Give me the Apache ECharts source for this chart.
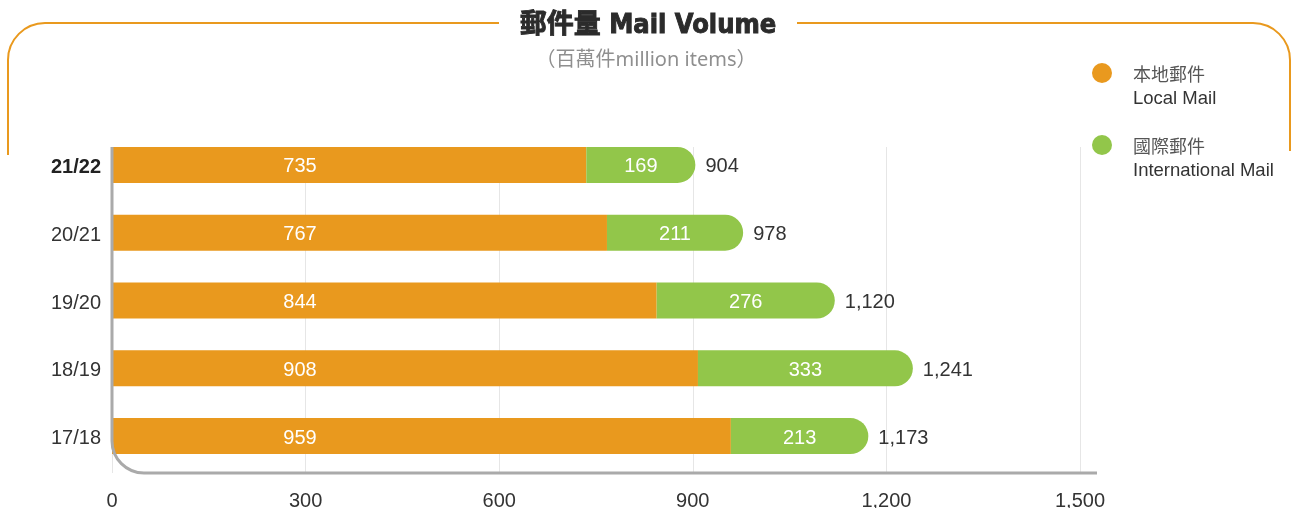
<!DOCTYPE html>
<html><head><meta charset="utf-8">
<script src="https://cdn.jsdelivr.net/npm/echarts@6/dist/echarts.min.js"></script>
<style>html,body{margin:0;padding:0;background:#fff}#c{width:1292px;height:508px}</style>
</head><body><div id="c"></div>
<script>
const categories = ['21/22', '20/21', '19/20', '18/19', '17/18'];
const localMail = [735, 767, 844, 908, 959];
const intlMail = [169, 211, 276, 333, 213];
const totals = [904, 978, 1120, 1241, 1173];
const xTicks = [0, 300, 600, 900, 1200, 1500];
const seriesNames = [['本地郵件', 'Local Mail'], ['國際郵件', 'International Mail']];
const colors = ['#E9991E', '#92C64A'];

const FONT = '"Liberation Sans", Arial, "Noto Sans CJK TC", sans-serif';
const chart = echarts.init(document.getElementById('c'), null, {renderer: 'canvas'});

const option = {
  animation: false,
  textStyle: {fontFamily: FONT},
  grid: [
    {left: 112, width: 968, top: 131, height: 339, outerBoundsMode: 'none', containLabel: false},
    {left: 112, width: 968, top: 147, height: 326, outerBoundsMode: 'none', containLabel: false}
  ],
  xAxis: [
    {gridIndex: 0, type: 'value', min: xTicks[0], max: xTicks[xTicks.length - 1], interval: 300, show: false},
    {gridIndex: 1, type: 'value', min: xTicks[0], max: xTicks[xTicks.length - 1], interval: 300,
      axisLine: {show: false}, axisTick: {show: false},
      splitLine: {show: true, lineStyle: {color: '#e6e6e6', width: 1}},
      axisLabel: {margin: 18, fontSize: 20, color: '#333', fontFamily: FONT,
        formatter: v => v.toLocaleString('en-US')}
    }
  ],
  yAxis: [
    {gridIndex: 0, type: 'category', data: categories, inverse: true,
      axisLine: {show: false}, axisTick: {show: false},
      axisLabel: {margin: 11, fontSize: 20, color: '#333', fontFamily: FONT,
        formatter: (v, i) => i === 0 ? '{b|' + v + '}' : '{n|' + v + '}',
        rich: {
          b: {fontWeight: 'bold', fontSize: 20, color: '#222', fontFamily: FONT, padding: [5, 0, 0, 0]},
          n: {fontSize: 20, color: '#333', fontFamily: FONT, padding: [5, 0, 0, 0]}
        }}
    },
    {gridIndex: 1, type: 'category', data: categories, show: false}
  ],
  series: [
    {name: seriesNames[0][0], type: 'bar', stack: 't', xAxisIndex: 0, yAxisIndex: 0,
      data: localMail, barWidth: 36, itemStyle: {color: colors[0]},
      label: {show: true, position: [188, '50%'], offset: [0, 2], align: 'center', verticalAlign: 'middle',
        color: '#fff', fontSize: 20, fontFamily: FONT}},
    {name: seriesNames[1][0], type: 'bar', stack: 't', xAxisIndex: 0, yAxisIndex: 0,
      data: intlMail, barWidth: 36, itemStyle: {color: colors[1], borderRadius: [0, 18, 18, 0]},
      label: {show: true, position: 'inside', offset: [0, 2], color: '#fff', fontSize: 20, fontFamily: FONT}},
    {name: 'total', type: 'bar', stack: 't', xAxisIndex: 0, yAxisIndex: 0,
      data: totals.map(() => 0), barWidth: 36, itemStyle: {color: 'transparent'},
      label: {show: true, position: 'right', distance: 10, offset: [0, 2], color: '#333', fontSize: 20, fontFamily: FONT,
        formatter: p => totals[p.dataIndex].toLocaleString('en-US')}}
  ]
};
chart.setOption(option);

// decorative frame + axis corner + legend
const x0 = chart.convertToPixel({xAxisIndex: 1}, 0);
const x1500 = chart.convertToPixel({xAxisIndex: 1}, 1500);
const yTop = 147, yBot = 473, r = 32;
const axisStyle = {stroke: '#AAAAAA', lineWidth: 3, fill: null};
const frameStyle = {stroke: '#E9991E', lineWidth: 2, fill: null};
const g = [];
g.push({type: 'line', shape: {x1: x0, y1: yTop, x2: x0, y2: yBot - r}, style: axisStyle, z: 10});
g.push({type: 'arc', shape: {cx: x0 + r, cy: yBot - r, r: r, startAngle: Math.PI / 2, endAngle: Math.PI, clockwise: true}, style: axisStyle, z: 10});
g.push({type: 'line', shape: {x1: x0 + r, y1: yBot, x2: x1500 + 17, y2: yBot}, style: axisStyle, z: 10});
// orange bracket
const R = 37;
g.push({type: 'line', shape: {x1: 8, y1: 155, x2: 8, y2: 23 + R}, style: frameStyle});
g.push({type: 'arc', shape: {cx: 8 + R, cy: 23 + R, r: R, startAngle: Math.PI, endAngle: Math.PI * 1.5, clockwise: true}, style: frameStyle});
g.push({type: 'line', shape: {x1: 8 + R, y1: 23, x2: 499, y2: 23}, style: frameStyle});
g.push({type: 'line', shape: {x1: 797, y1: 23, x2: 1290 - R, y2: 23}, style: frameStyle});
g.push({type: 'arc', shape: {cx: 1290 - R, cy: 23 + R, r: R, startAngle: -Math.PI / 2, endAngle: 0, clockwise: true}, style: frameStyle});
g.push({type: 'line', shape: {x1: 1290, y1: 23 + R, x2: 1290, y2: 151}, style: frameStyle});
// title
g.push({type: 'text', x: 648, y: 26, style: {text: '郵件量 Mail Volume', align: 'center', verticalAlign: 'middle',
  font: 'bold 27px "DejaVu Sans Condensed", "Noto Sans CJK TC", sans-serif', fill: '#2b2b2b',
  stroke: '#2b2b2b', lineWidth: 0.9}});
g.push({type: 'text', x: 646, y: 60, style: {text: '（百萬件million items）', align: 'center', verticalAlign: 'middle',
  font: '20px "Noto Sans", "Noto Sans CJK TC", sans-serif', fill: '#8f8f8f'}});
// legend
seriesNames.forEach((n, i) => {
  const cy = 73 + i * 72;
  g.push({type: 'circle', shape: {cx: 1102, cy: cy, r: 10}, style: {fill: colors[i]}});
  g.push({type: 'text', x: 1133, y: cy + 1, style: {text: n[0], verticalAlign: 'middle',
    font: '18px "Noto Sans CJK TC", sans-serif', fill: '#555'}});
  g.push({type: 'text', x: 1133, y: cy + 26, style: {text: n[1], verticalAlign: 'middle',
    font: '18.5px "Liberation Sans", sans-serif', fill: '#333'}});
});
chart.setOption({graphic: g});
</script></body></html>
